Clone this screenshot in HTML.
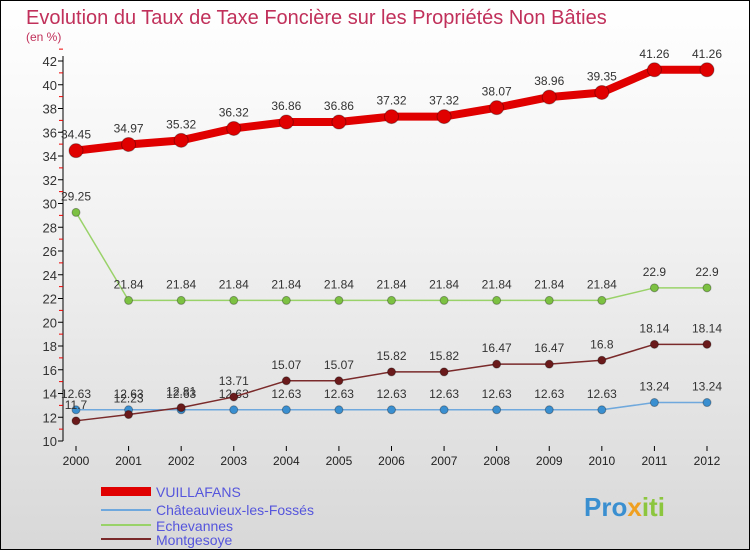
<!DOCTYPE html>
<html><head><meta charset="utf-8"><style>
body{margin:0}
#c{width:748px;height:548px;border:1px solid #000;background:linear-gradient(#fff,#f2f2f2 40%,#d8d8d8);position:relative;overflow:hidden;font-family:"Liberation Sans",sans-serif}
</style></head><body>
<div id="c">
<svg id="s" width="748" height="548" xmlns="http://www.w3.org/2000/svg">
<text x="25" y="23" font-size="20" fill="#c0305a">Evolution du Taux de Taxe Foncière sur les Propriétés Non Bâties</text>
<text x="25" y="40" font-size="12" fill="#c0305a">(en %)</text>
<g id="g"></g>
<g>
<rect x="100" y="486" width="50" height="9" fill="#e00000"/>
<text x="155" y="496" font-size="14" fill="#5555dd">VUILLAFANS</text>
<rect x="100" y="508" width="50" height="2" fill="#6fa8dc"/>
<text x="155" y="514" font-size="14" fill="#5555dd">Châteauvieux-les-Fossés</text>
<rect x="100" y="523" width="50" height="2" fill="#9ad26a"/>
<text x="155" y="530" font-size="14" fill="#5555dd">Echevannes</text>
<rect x="100" y="537" width="50" height="2" fill="#7a2a2a"/>
<text x="155" y="544" font-size="14" fill="#5555dd">Montgesoye</text>
</g>
<text x="583" y="515" font-size="26" font-weight="bold" fill="#3a8fd0">Pro<tspan fill="#f0a020">x</tspan><tspan fill="#8cc63f">iti</tspan></text>
</svg></div>
<script>
const years=[2000,2001,2002,2003,2004,2005,2006,2007,2008,2009,2010,2011,2012];
const yTicks=[10,12,14,16,18,20,22,24,26,28,30,32,34,36,38,40,42];
const vuillafans=[34.45,34.97,35.32,36.32,36.86,36.86,37.32,37.32,38.07,38.96,39.35,41.26,41.26];
const chateauvieux=[12.63,12.63,12.63,12.63,12.63,12.63,12.63,12.63,12.63,12.63,12.63,13.24,13.24];
const echevannes=[29.25,21.84,21.84,21.84,21.84,21.84,21.84,21.84,21.84,21.84,21.84,22.9,22.9];
const montgesoye=[11.7,12.23,12.81,13.71,15.07,15.07,15.82,15.82,16.47,16.47,16.8,18.14,18.14];
const NS="http://www.w3.org/2000/svg",g=document.getElementById('g');
const X=i=>75+i*(631/12), Y=v=>440-(v-10)*(380/32);
function el(t,a){const e=document.createElementNS(NS,t);for(const k in a)e.setAttribute(k,a[k]);g.appendChild(e);return e;}
let ax=el('line',{x1:62,y1:55,x2:62,y2:440,stroke:'#000'});


yTicks.forEach(v=>{let t=el('line',{x1:57,x2:62,y1:Y(v),y2:Y(v),stroke:'#000'});


let m=el('line',{x1:58,x2:62,y1:Y(v+1),y2:Y(v+1),stroke:'#e00'});


let l=el('text',{x:56,y:Y(v)+5,'text-anchor':'end','font-size':13,fill:'#333'});l.textContent=v;

});
years.forEach((y,i)=>{let t=el('line',{x1:X(i),x2:X(i),y1:445,y2:450,stroke:'#000'});


let l=el('text',{x:X(i),y:464,'text-anchor':'middle','font-size':12,fill:'#222'});l.textContent=y;

});
function series(name,d,color,w,r,dot,fs){
 let p=el('polyline',{points:d.map((v,i)=>X(i)+','+Y(v)).join(' '),fill:'none',stroke:color,'stroke-width':w,'stroke-linejoin':'round'});
 
 
 d.forEach((v,i)=>{let c=el('circle',{cx:X(i),cy:Y(v),r:r,fill:dot,stroke:'rgba(0,0,0,0.3)'});
 
 
 let t=el('text',{x:X(i),y:Y(v)-12,'text-anchor':'middle','font-size':fs,fill:'#333'});t.textContent=v;
 
 });
}
series('chateauvieux',chateauvieux,'#6fa8dc',1.5,4,'#3a8fd0',12);
series('echevannes',echevannes,'#9ad26a',1.5,4,'#7cc142',12);
series('montgesoye',montgesoye,'#7a2a2a',1.5,4,'#6a1a1a',12);
series('vuillafans',vuillafans,'#e00000',8,7,'#e00000',12);
</script></body></html>
